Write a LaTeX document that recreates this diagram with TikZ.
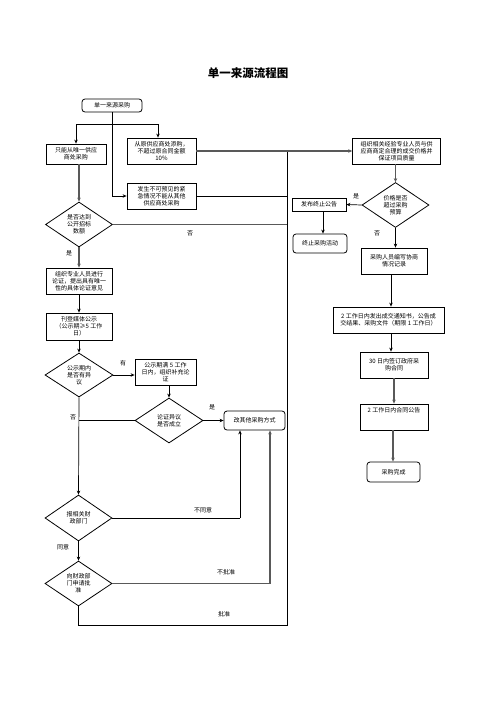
\documentclass[tikz,border=0pt]{standalone}
\usepackage{fontspec}
\setmainfont{Noto Sans CJK SC}
\usetikzlibrary{arrows.meta,shapes.geometric}

\tikzset{
  txt/.style={font=\fontsize{6}{7}\selectfont, align=center},
  box/.style={txt, draw, line width=0.8pt, inner sep=0pt},
  rbox/.style={box, rounded corners=3pt},
  dia/.style={txt, draw, line width=0.8pt, diamond, aspect=1.5, inner sep=0pt, minimum width=67pt, minimum height=45pt},
  line/.style={line width=0.7pt},
  gline/.style={line width=1.3pt, draw=black!65},
  arr/.style={line, -{Stealth[length=4pt,width=3.5pt]}},
  garr/.style={gline, -{Stealth[length=4pt,width=3.5pt]}},
  lbl/.style={font=\fontsize{6}{7}\selectfont}
}

\begin{document}
\begin{tikzpicture}[x=1pt,y=-1pt]
\useasboundingbox (0,0) rectangle (496,702);

\node (title) at (248,73) {\fontsize{11.5}{13}\selectfont\bfseries 单一来源流程图};

% left column
\node[rbox, minimum width=60pt, minimum height=13pt] (start) at (112,105.5) {单一来源采购};
\node[box, minimum width=60pt, minimum height=20pt] (only) at (76,154) {只能从唯一供应\\商处采购};
\node[box, minimum width=69pt, minimum height=26pt] (add) at (161.5,151) {从原供应商处添购，\\不超过原合同金额\\10\%};
\node[box, minimum width=69pt, minimum height=26pt] (urgent) at (161.5,196) {发生不可预见的紧\\急情况不能从其他\\供应商处采购};
\node[dia] (tender) at (79,224.5) {是否达到\\公开招标\\数额};
\node[box, minimum width=66pt, minimum height=26pt] (prove) at (79,281) {组织专业人员进行\\论证，提出具有唯一\\性的具体论证意见};
\node[box, minimum width=66pt, minimum height=27pt] (notice) at (79,326.5) {刊登媒体公示\\（公示期≥5 工作\\日）};
\node[dia, minimum width=68pt, minimum height=44pt] (object) at (79,375) {公示期内\\是否有异\\议};
\node[box, minimum width=61pt, minimum height=26pt] (extra) at (165.5,372) {公示期满 5 工作\\日内，组织补充论\\证};
\node[dia, minimum width=68pt] (valid) at (169,420.5) {论证异议\\是否成立};
\node[rbox, minimum width=61pt, minimum height=19pt] (other) at (254.5,420.5) {改其他采购方式};
\node[dia, minimum height=46pt] (report) at (78.5,518) {报相关财\\政部门};
\node[dia] (apply) at (78.5,583.5) {向财政部\\门申请批\\准};

% right column
\node[box, minimum width=88pt, minimum height=26pt] (nego) at (396.7,151) {组织相关经验专业人员与供\\应商商定合理的成交价格并\\保证项目质量};
\node[dia] (price) at (395.5,205) {价格是否\\超过采购\\预算};
\node[box, minimum width=54pt, minimum height=13pt] (stopnote) at (319,204.5) {发布终止公告};
\node[rbox, minimum width=54pt, minimum height=19pt] (stop) at (320,243.5) {终止采购活动};
\node[box, minimum width=66pt, minimum height=26pt] (record) at (394,261) {采购人员编写协商\\情况记录};
\node[box, minimum width=111pt, minimum height=26pt] (deal) at (388.5,320) {2 工作日内发出成交通知书，公告成\\交结果、采购文件（期限 1 工作日）};
\node[box, minimum width=68pt, minimum height=26pt] (sign) at (394,365) {30 日内签订政府采\\购合同};
\node[box, minimum width=68pt, minimum height=26pt] (pub) at (394,417) {2 工作日内合同公告\\~\\~};
\node[rbox, minimum width=53pt, minimum height=20pt] (done) at (393.5,472) {采购完成};

\coordinate (split) at (112,124);
\coordinate (trunkt) at (287,151);
\coordinate (trunkb) at (287,625);
\coordinate (nobend) at (240,518);
\coordinate (nabend) at (270,583.5);

% connectors, left
\draw[line] (start.south) -- (split);
\draw[arr] (split) -| (only.north);
\draw[arr] (split) -| ([xshift=-3.5pt]add.north);
\draw[arr] (split) |- (urgent.west);
\draw[garr] (only.south -| tender.north) -- (tender.north);
\draw[garr] (tender.south) -- (prove.north);
\draw[arr] (prove.south) -- (notice.north);
\draw[arr] (notice.south) -- (object.north);
\draw[arr] (object.east) -- (object.east -| extra.west);
\draw[arr] (extra.south -| valid.north) -- (valid.north);
\draw[arr] (valid.east) -- (other.west);
\draw[line] (valid.west) -- (valid.west -| object.south);
\draw[arr] (object.south) -- (report.north);
\draw[arr] (report.south) -- (apply.north);
\draw[line] (report.east) -- (nobend);
\draw[arr] (nobend) -- (nobend |- other.south);
\draw[gline] (apply.east) -- (nabend);
\draw[garr] (nabend) -- (nabend |- other.south);

% trunk to negotiation
\draw[line] (apply.south) |- (trunkb) -- (trunkt);
\draw[line] (urgent.east) -- (urgent.east -| trunkt);
\draw[gline] (tender.east) -- (tender.east -| trunkt);
\draw[garr] (add.east) -- (nego.west);

% connectors, right
\draw[garr] (nego.south -| price.north) -- (price.north);
\draw[arr] (price.west) -- (stopnote.east);
\draw[arr] ([xshift=4pt]stopnote.south) -- ([xshift=4pt]stopnote.south |- stop.north);
\draw[arr] (price.south) -- (price.south |- record.north);
\draw[arr] ([xshift=-3pt]record.south) -- ([xshift=-3pt]record.south |- deal.north);
\draw[arr] ([xshift=2.5pt]deal.south) -- ([xshift=2.5pt]deal.south |- sign.north);
\draw[garr] (sign.south) -- (pub.north);
\draw[garr] ([xshift=-1pt]pub.south) -- ([xshift=-1pt]pub.south |- done.north);

% labels
\node[lbl] (lno1) at (190,233) {否};
\node[lbl] (lyes1) at (69,253) {是};
\node[lbl] (lhave) at (123,363) {有};
\node[lbl] (lno2) at (73,417) {否};
\node[lbl] (lyes2) at (212,407) {是};
\node[lbl] (lnoagree) at (203,510) {不同意};
\node[lbl] (lagree) at (63,547) {同意};
\node[lbl] (lnoappr) at (226,572) {不批准};
\node[lbl] (lappr) at (224,614) {批准};
\node[lbl] (lyes3) at (356,196) {是};
\node[lbl] (lno3) at (377,233) {否};
\end{tikzpicture}
\end{document}
